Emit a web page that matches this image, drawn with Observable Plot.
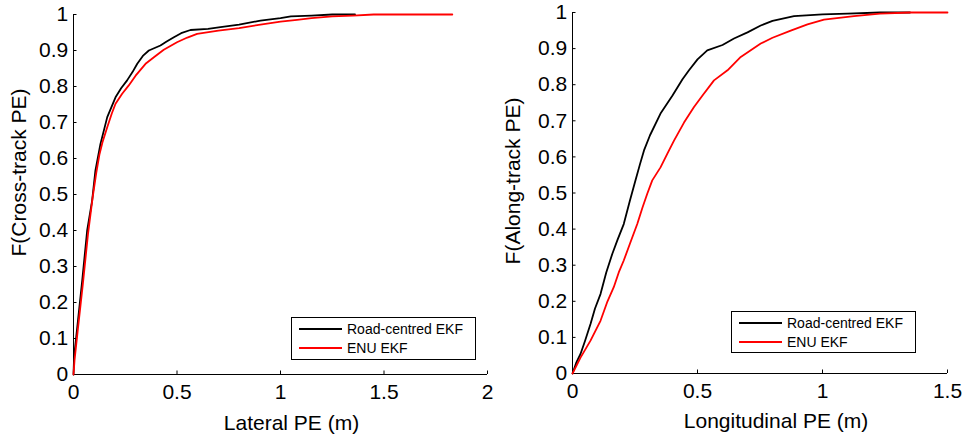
<!DOCTYPE html>
<html>
<head>
<meta charset="utf-8">
<script src="https://cdn.jsdelivr.net/npm/d3@7"></script>
<script src="https://cdn.jsdelivr.net/npm/@observablehq/plot@0.6"></script>
<style>
  body { margin: 0; background: white; }
  #wrap { position: relative; width: 966px; height: 438px; display: flex; font-family: "Liberation Sans", Arial, Helvetica, sans-serif; }
  .legend { position: absolute; border: 1.5px solid black; background: white; box-sizing: border-box; font-size: 14px; }
  .legend .row { position: absolute; left: 7px; display: flex; align-items: center; height: 18px; }
  .legend .sw { width: 43px; height: 2px; margin-right: 5px; }
</style>
</head>
<body>
<div id="wrap"></div>
<script>
// Series names
const seriesNames = ["Road-centred EKF", "ENU EKF"];
const seriesColors = ["#000000", "#ff0000"];

// Left panel: lateral (cross-track) PE CDF
const latRoadX = [0, 0.003, 0.018, 0.042, 0.066, 0.09, 0.106, 0.13, 0.163, 0.203, 0.23, 0.259, 0.285, 0.308, 0.335, 0.364, 0.42, 0.45, 0.485, 0.52, 0.565, 0.65, 0.71, 0.8, 0.903, 1.0, 1.05, 1.15, 1.25, 1.36];
const latRoadY = [0, 0.05, 0.13, 0.26, 0.4, 0.483, 0.567, 0.64, 0.715, 0.77, 0.795, 0.817, 0.84, 0.863, 0.885, 0.9, 0.914, 0.925, 0.937, 0.948, 0.957, 0.96, 0.965, 0.972, 0.983, 0.99, 0.995, 0.997, 1.0, 1.0];
const latEnuX = [0, 0.005, 0.02, 0.045, 0.07, 0.092, 0.11, 0.125, 0.14, 0.163, 0.185, 0.203, 0.235, 0.267, 0.3, 0.348, 0.39, 0.436, 0.5, 0.55, 0.597, 0.7, 0.8, 0.903, 1.0, 1.08, 1.15, 1.25, 1.35, 1.45, 1.83];
const latEnuY = [0, 0.04, 0.12, 0.25, 0.39, 0.49, 0.56, 0.61, 0.645, 0.687, 0.725, 0.752, 0.78, 0.803, 0.83, 0.863, 0.882, 0.902, 0.923, 0.936, 0.946, 0.955, 0.962, 0.972, 0.98, 0.985, 0.99, 0.995, 0.997, 1.0, 1.0];

// Right panel: longitudinal (along-track) PE CDF
const lonRoadX = [0, 0.015, 0.032, 0.05, 0.072, 0.09, 0.112, 0.135, 0.159, 0.18, 0.205, 0.23, 0.252, 0.27, 0.286, 0.31, 0.352, 0.4, 0.44, 0.466, 0.5, 0.539, 0.6, 0.646, 0.7, 0.753, 0.8, 0.886, 1.0, 1.1, 1.23, 1.35];
const lonRoadY = [0, 0.03, 0.054, 0.09, 0.137, 0.18, 0.22, 0.28, 0.331, 0.37, 0.414, 0.48, 0.535, 0.58, 0.618, 0.66, 0.72, 0.77, 0.815, 0.84, 0.87, 0.895, 0.91, 0.928, 0.945, 0.964, 0.977, 0.99, 0.995, 0.997, 1.0, 1.0];
const lonEnuX = [0, 0.032, 0.072, 0.112, 0.14, 0.165, 0.185, 0.205, 0.23, 0.259, 0.28, 0.299, 0.319, 0.352, 0.38, 0.406, 0.446, 0.486, 0.52, 0.566, 0.62, 0.673, 0.753, 0.8, 0.873, 0.94, 1.006, 1.126, 1.23, 1.35, 1.5];
const lonEnuY = [0, 0.044, 0.091, 0.146, 0.2, 0.239, 0.28, 0.313, 0.36, 0.414, 0.46, 0.498, 0.535, 0.571, 0.61, 0.645, 0.695, 0.738, 0.77, 0.812, 0.84, 0.877, 0.914, 0.93, 0.95, 0.967, 0.98, 0.99, 0.997, 1.0, 1.0];

// Tick values
const yTicks = [0, 0.1, 0.2, 0.3, 0.4, 0.5, 0.6, 0.7, 0.8, 0.9, 1];
const latXTicks = [0, 0.5, 1, 1.5, 2];
const lonXTicks = [0, 0.5, 1, 1.5];

// Labels
const latXLabel = "Lateral PE (m)";
const latYLabel = "F(Cross-track PE)";
const lonXLabel = "Longitudinal PE (m)";
const lonYLabel = "F(Along-track PE)";

const FONT = '"Liberation Sans", Arial, Helvetica, sans-serif';
const toPts = (xs, ys) => xs.map((x, i) => ({x, y: ys[i]}));

function panel(o) {
  return Plot.plot({
    width: o.width, height: 438,
    marginLeft: o.ml, marginRight: o.mr, marginTop: o.mt, marginBottom: o.mb,
    x: {domain: o.xDomain},
    y: {domain: [0, 1]},
    style: {fontFamily: FONT, fontSize: "21px", color: "black", background: "white", overflow: "visible"},
    marks: [
      Plot.axisX({ticks: o.xTicks, tickFormat: d => String(d), tickSize: -3.5, tickPadding: 13.5, label: null, fontSize: 21}),
      Plot.axisY({ticks: yTicks, tickFormat: d => String(d), tickSize: -3.5, tickPadding: 8.8, label: null, fontSize: 21}),
      Plot.ruleY([0], {stroke: "black", strokeWidth: 1}),
      Plot.ruleX([0], {stroke: "black", strokeWidth: 1}),
      Plot.line(toPts(o.roadX, o.roadY), {x: "x", y: "y", stroke: seriesColors[0], strokeWidth: 1.8}),
      Plot.line(toPts(o.enuX, o.enuY), {x: "x", y: "y", stroke: seriesColors[1], strokeWidth: 1.8}),
      Plot.text([o.yLabel], {frameAnchor: "left", text: d => d, rotate: -90, textAnchor: "middle", lineAnchor: "middle", dx: o.ylDx, dy: o.ylDy, fontSize: 21, fill: "black"}),
      Plot.text([o.xLabel], {frameAnchor: "bottom", text: d => d, textAnchor: "middle", lineAnchor: "middle", dx: o.xlDx, dy: o.xlDy, fontSize: 21, fill: "black"})
    ]
  });
}

const wrap = document.getElementById("wrap");
wrap.append(panel({
  width: 500, ml: 73, mr: 13, mt: 14, mb: 64,
  xDomain: [0, 2], xTicks: latXTicks,
  roadX: latRoadX, roadY: latRoadY, enuX: latEnuX, enuY: latEnuY,
  yLabel: latYLabel, xLabel: latXLabel,
  ylDx: -54, ylDy: -22, xlDx: 11, xlDy: 49
}));
wrap.append(panel({
  width: 466, ml: 72, mr: 19, mt: 12, mb: 65,
  xDomain: [0, 1.5], xTicks: lonXTicks,
  roadX: lonRoadX, roadY: lonRoadY, enuX: lonEnuX, enuY: lonEnuY,
  yLabel: lonYLabel, xLabel: lonXLabel,
  ylDx: -59, ylDy: -12, xlDx: 16, xlDy: 48
}));

function legend(left, top, width, height) {
  const box = document.createElement("div");
  box.className = "legend";
  Object.assign(box.style, {left: left + "px", top: top + "px", width: width + "px", height: height + "px"});
  seriesNames.forEach((name, i) => {
    const row = document.createElement("div");
    row.className = "row";
    row.style.top = (2 + i * 19) + "px";
    const sw = document.createElement("div");
    sw.className = "sw";
    sw.style.background = seriesColors[i];
    const t = document.createElement("span");
    t.textContent = name;
    row.append(sw, t);
    box.append(row);
  });
  wrap.append(box);
}
legend(291, 317, 185, 43);
legend(731, 311, 185, 42);
</script>
</body>
</html>
